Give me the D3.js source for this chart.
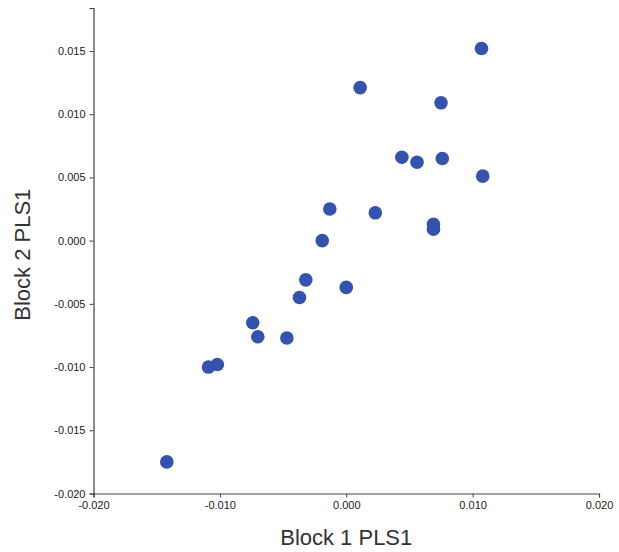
<!DOCTYPE html>
<html><head><meta charset="utf-8">
<script src="https://cdn.jsdelivr.net/npm/d3@7"></script>
<style>body{margin:0;background:#fff}</style>
</head><body>
<svg id="c" width="619" height="552"></svg>
<script>
const xValues = [0.0107,0.0011,0.0075,0.0044,0.0056,0.0076,0.0108,-0.0013,0.0023,0.0069,0.0069,-0.0019,-0.0032,-0.0037,0.0000,-0.0074,-0.0070,-0.0047,-0.0109,-0.0102,-0.0142];
const yValues = [0.0152,0.0121,0.0109,0.0066,0.0062,0.0065,0.0051,0.0025,0.0022,0.0013,0.0009,0.0000,-0.0031,-0.0045,-0.0037,-0.0065,-0.0076,-0.0077,-0.0100,-0.0098,-0.0175];
const xTicks = [-0.020,-0.010,0.000,0.010,0.020];
const yTicks = [-0.020,-0.015,-0.010,-0.005,0.000,0.005,0.010,0.015];
const xTitle = "Block 1 PLS1", yTitle = "Block 2 PLS1";

(function(){
const svg = d3.select("#c");
const mL=93.5, mR=599, mT=8, mB=493.5;
const x = d3.scaleLinear().domain([-0.020,0.020]).range([mL,mR]);
const y = d3.scaleLinear().domain([-0.020,0.0184]).range([mB,mT]);
const fmt = d => d3.format(".3f")(d).replace("\u2212","-");
const font = "Liberation Sans, Arial, sans-serif";
const xa = svg.append("g").attr("transform",`translate(0,${mB})`)
  .call(d3.axisBottom(x).tickValues(xTicks).tickFormat(fmt).tickSizeOuter(0).tickSize(4).tickPadding(4));
const ya = svg.append("g").attr("transform",`translate(${mL},0)`)
  .call(d3.axisLeft(y).tickValues(yTicks).tickFormat(fmt).tickSizeOuter(0).tickSize(4).tickPadding(4));
[xa,ya].forEach(a=>{
  a.select(".domain").attr("stroke","#444").attr("stroke-width",1.2);
  a.selectAll(".tick line").attr("stroke","#444");
  a.selectAll(".tick text").attr("fill","#222").style("font-family",font).style("font-size","11px");
});

svg.append("g").selectAll("circle").data(xValues.map((v,i)=>[v,yValues[i]])).join("circle")
  .attr("cx",d=>x(d[0])).attr("cy",d=>y(d[1])).attr("r",6.8).attr("fill","#3552ad");

svg.append("text").attr("x",(mL+mR)/2).attr("y",545).attr("text-anchor","middle")
  .style("font-family",font).style("font-size","22px").attr("fill","#333").text(xTitle);
svg.append("text").attr("transform",`translate(30,${(mT+mB)/2+4}) rotate(-90)`).attr("text-anchor","middle")
  .style("font-family",font).style("font-size","22px").attr("fill","#333").text(yTitle);
})();
</script>
</body></html>
